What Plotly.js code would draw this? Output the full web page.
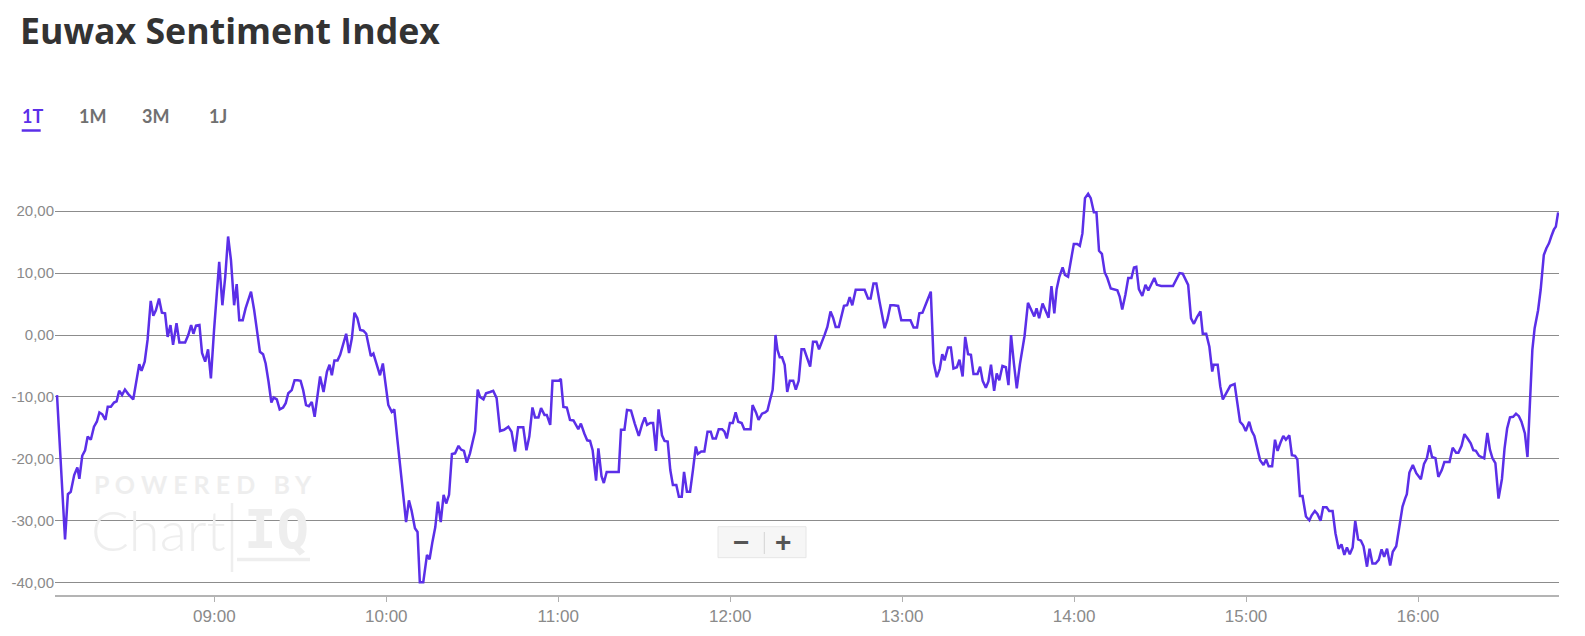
<!DOCTYPE html>
<html>
<head>
<meta charset="utf-8">
<script src="https://cdn.plot.ly/plotly-3.0.1.min.js"></script>
<style>
  html, body { margin: 0; padding: 0; background: #ffffff; }
  #chart { width: 1585px; height: 636px; }
</style>
</head>
<body>
<div id="chart"></div>
<script>
// ---- data ----
const chartTitle = 'Euwax Sentiment Index';
const tabLabels = ['1T', '1M', '3M', '1J'];
const sessionDate = '2024-01-02';

// minutes after 08:00
const minutesAfter0800 = [
  5.1, 7.9, 8.9, 9.9, 11.1, 12.2, 12.9, 13.9, 14.9, 15.8, 16.9, 18.0, 19.0, 19.9, 20.9, 22.0, 22.8, 23.9, 25.0, 25.9,
  26.8, 27.8, 28.8, 29.9, 31.7, 32.9, 33.8, 34.6, 35.7, 36.7, 37.8, 38.7, 39.6, 40.7, 41.7, 42.8, 43.7, 44.7, 45.6, 46.8,
  47.8, 49.8, 50.9, 51.9, 52.7, 53.6, 54.8, 55.7, 56.8, 57.8, 58.8, 59.9, 60.8, 61.7, 62.8, 63.8, 64.8, 65.8, 66.9, 67.8,
  68.7, 69.9, 70.9, 71.9, 72.8, 73.9, 74.9, 75.9, 77.0, 77.9, 78.9, 79.9, 80.7, 81.8, 82.8, 84.0, 84.9, 85.8, 87.0, 88.0,
  89.1, 90.1, 91.0, 92.0, 93.0, 94.0, 95.0, 95.9, 96.9,
  98.1, 99.3, 100.2, 101.0, 101.9, 103.0, 103.9, 104.8, 106.0, 107.0, 108.0, 108.9, 109.9, 110.9, 112.0, 113.0, 113.8, 114.6, 115.5, 116.4,
  117.8, 118.8, 119.8, 120.7, 121.9, 122.8, 123.9, 124.8, 125.9, 126.9, 127.9, 128.8, 130.0, 130.9, 131.7, 132.9, 134.2, 135.1, 136.1, 137.1,
  138.0, 139.0, 140.0, 140.9, 141.9, 142.9, 144.0, 145.2, 146.1, 147.1, 148.1, 149.2, 150.4, 151.0, 151.9, 152.7, 153.9, 154.8, 156.2, 157.3,
  158.5, 159.7, 161.1, 162.6, 163.7, 164.9, 166.0, 167.8, 168.9, 169.9, 171.0, 171.9, 173.1, 174.0, 175.2, 176.0, 177.2, 178.0, 180.1, 180.9,
  181.8, 183.0, 184.1, 185.3, 187.0, 187.9, 189.1, 190.1, 191.1, 192.0, 193.2, 194.0, 195.1, 195.9, 196.9,
  201.1, 201.9, 203.1, 204.0, 205.4, 206.7, 208.1, 209.2, 210.2, 211.0, 212.1, 213.1, 214.1, 215.0, 216.2, 217.1, 218.2, 219.1, 220.0, 221.2,
  222.1, 223.1, 223.9, 224.9, 226.0, 227.0, 228.0, 228.7, 229.9, 231.0, 232.1, 233.2, 233.9, 235.0, 236.0, 237.2, 238.0, 238.8, 239.9, 240.9,
  241.9, 242.8, 244.0, 244.9, 246.0, 247.1, 247.8, 249.0, 249.9, 251.1, 252.2, 253.0, 253.9, 254.8, 255.3, 255.8, 256.5, 257.3, 258.1, 259.0,
  259.9, 260.8, 262.0, 262.9, 263.9, 264.9, 265.8, 266.8, 267.9, 268.9, 270.1, 271.0, 272.1, 273.0, 273.9, 275.0, 275.9, 276.8, 277.9, 278.8,
  279.7, 280.8, 281.7, 282.6, 283.8, 284.9, 286.9, 288.1, 289.0, 290.0, 291.0, 292.1, 293.0, 293.9, 294.8, 295.9, 297.1, 298.6, 299.7,
  302.9, 304.0, 305.2, 306.0, 307.1, 308.7, 310.0, 311.0, 312.1, 313.1, 314.0, 314.8, 316.0, 317.0, 317.9, 319.1, 320.0, 321.1, 322.0, 323.0,
  324.0, 324.9, 326.3, 327.2, 328.1, 329.2, 330.1, 331.0, 332.1, 333.0, 333.9, 335.0, 336.2, 337.1, 338.0, 339.0, 340.0, 341.1, 342.7, 343.9,
  345.2, 346.1, 346.9, 347.8, 349.0, 350.0, 351.1, 352.1, 353.1, 353.9, 354.8, 356.0, 356.8, 357.9, 359.1, 359.9, 361.1, 362.0, 362.9, 363.8,
  364.9, 365.8, 366.9, 367.8, 368.7, 369.7, 370.7, 371.6, 372.8, 373.9, 375.1, 375.9, 376.8, 377.9, 378.9, 380.0, 380.9, 381.7, 382.6, 383.8,
  384.9, 385.9, 387.0, 388.0, 388.9, 390.4, 394.5, 395.6, 396.8, 397.9, 398.9, 399.8, 400.8, 401.8, 402.9, 404.1,
  404.9, 406.1, 407.2, 408.2, 408.7, 410.1, 411.0, 411.9, 413.1, 414.5, 416.0, 416.8, 417.9, 418.9, 419.9, 421.1, 422.0, 422.9, 424.0, 424.9,
  426.1, 427.0, 427.9, 429.1, 430.1, 431.0, 432.0, 433.0, 433.9, 435.1, 436.0, 437.1, 437.9, 438.8, 439.7, 440.9, 442.1, 442.9, 444.0, 444.9,
  446.0, 446.9, 448.1, 449.0, 450.2, 451.2, 452.3, 453.3, 454.3, 455.2, 456.2, 457.2, 458.1, 459.1, 460.1, 461.0, 462.2, 463.1, 464.1, 465.2,
  466.3, 467.3, 468.2, 469.2, 470.3, 471.2, 472.4, 473.6, 474.6, 475.5, 476.1, 477.0, 478.2, 479.4, 481.0, 482.1, 483.1, 484.0, 484.9, 486.1,
  487.1, 488.3, 489.2, 491.0, 492.1, 493.3, 494.1, 495.2, 496.2, 497.3, 498.4, 499.3, 500.2, 501.3, 502.2, 503.1, 504.2, 505.1, 506.0, 507.0,
  508.1, 509.3, 510.2, 511.1, 512.1, 513.2, 514.2, 515.2, 516.1, 517.3, 518.2, 519.0, 519.9, 520.7, 521.9, 522.8, 523.9, 524.8, 525.7, 526.5,
  527.4, 528.1, 528.9
];

const sentiment = [
  -9.7, -33.0, -25.7, -25.3, -22.6, -21.4, -23.2, -19.5, -18.6, -16.4, -16.9, -14.8, -14.0, -12.5, -12.8, -13.7, -11.6, -11.6, -10.9, -10.7,
  -9.0, -9.7, -8.8, -9.5, -10.4, -7.3, -4.7, -5.8, -4.3, -0.8, 5.5, 3.1, 4.0, 5.9, 3.6, 3.5, -0.3, 1.6, -1.6, 1.9,
  -1.2, -1.2, 0.0, 1.6, 0.2, 1.5, 1.6, -2.9, -4.3, -2.3, -7.0, 0.8, 6.2, 11.8, 4.8, 9.4, 15.9, 12.1, 4.8, 8.2,
  2.4, 2.4, 4.3, 5.7, 7.0, 4.0, 0.5, -2.7, -3.1, -4.6, -7.5, -10.9, -10.1, -10.4, -12.0, -11.7, -11.0, -9.4, -8.9, -7.3,
  -7.3, -7.4, -8.9, -11.3, -11.5, -10.8, -13.2, -10.2, -6.7,
  -9.2, -5.9, -4.8, -6.5, -4.1, -4.1, -3.2, -1.8, 0.2, -2.9, -0.5, 3.6, 2.7, 0.8, 0.7, 0.2, -1.9, -3.4, -3.0, -4.3,
  -6.5, -4.6, -7.8, -11.3, -12.4, -12.0, -17.0, -21.3, -26.1, -30.2, -26.7, -28.3, -31.2, -31.8, -39.9, -39.9, -35.5, -36.2, -33.4, -31.0,
  -26.9, -30.2, -25.8, -27.2, -25.8, -19.2, -19.1, -17.9, -18.5, -18.7, -20.6, -19.1, -16.7, -15.5, -8.8, -10.0, -10.4, -9.4, -9.2, -9.0,
  -10.2, -15.5, -15.3, -14.8, -15.6, -18.8, -14.9, -14.9, -18.6, -16.4, -11.7, -13.3, -13.3, -11.8, -12.9, -12.9, -14.5, -7.4, -7.4, -7.1,
  -11.6, -11.7, -13.7, -13.8, -15.2, -14.3, -15.9, -17.0, -17.1, -18.6, -23.5, -18.3, -22.8, -23.9, -22.1,
  -22.1, -15.3, -15.3, -12.1, -12.2, -14.3, -16.3, -14.5, -13.3, -14.5, -14.2, -14.2, -18.7, -12.0, -16.2, -17.1, -17.2, -21.8, -24.2, -24.2,
  -26.1, -26.1, -22.1, -25.3, -25.3, -21.8, -18.0, -19.2, -18.8, -18.8, -15.6, -15.6, -16.7, -16.7, -15.2, -15.2, -15.6, -16.7, -14.2, -14.2,
  -12.5, -14.0, -14.2, -15.2, -15.2, -15.2, -11.3, -12.5, -13.7, -12.7, -12.5, -12.2, -10.5, -8.9, -5.7, 0.0, -2.4, -3.6, -3.6, -4.8,
  -9.2, -7.4, -7.4, -8.8, -7.4, -2.3, -2.3, -3.8, -5.1, -1.1, -1.1, -2.3, -1.1, 0.1, 1.3, 3.8, 2.8, 1.3, 1.3, 3.2,
  4.7, 4.8, 6.1, 4.8, 7.3, 7.3, 7.3, 5.9, 5.9, 8.3, 8.3, 5.4, 3.1, 1.1, 2.4, 4.8, 4.8, 4.7, 2.4,
  2.4, 1.2, 1.2, 3.5, 3.6, 5.5, 7.0, -4.5, -6.8, -5.5, -3.1, -4.1, -2.0, -2.0, -5.4, -5.2, -4.0, -6.7, -0.3, -3.1,
  -3.2, -6.3, -6.3, -5.1, -7.4, -8.5, -7.5, -4.8, -9.0, -6.2, -7.3, -5.0, -5.2, -8.1, 0.0, -4.6, -8.6, -4.7, -0.2, 5.2,
  4.0, 3.0, 4.3, 2.7, 5.1, 4.0, 2.8, 7.9, 3.5, 7.4, 9.3, 10.9, 9.7, 9.4, 12.8, 14.7, 14.7, 14.4, 16.4, 22.1,
  22.8, 22.1, 19.8, 19.8, 13.6, 13.1, 10.1, 9.2, 7.5, 7.4, 7.2, 6.2, 4.1, 6.5, 9.2, 9.2, 10.9, 11.0, 7.4, 6.3,
  8.1, 7.2, 8.3, 9.2, 8.1, 7.9, 7.9, 8.9, 10.0, 9.9, 8.9, 8.1, 2.7, 1.8, 2.9, 3.8,
  0.2, 0.2, -1.9, -5.9, -4.8, -4.8, -8.3, -10.4, -9.4, -8.2, -7.9, -10.5, -14.0, -14.5, -15.5, -14.0, -15.5, -16.3, -18.5, -20.2,
  -21.0, -20.1, -21.2, -21.2, -16.9, -18.7, -17.4, -16.3, -16.9, -16.2, -19.4, -19.5, -20.1, -26.0, -26.0, -29.3, -29.9, -29.1, -28.4, -28.9,
  -30.0, -27.8, -27.8, -28.4, -28.4, -32.0, -34.5, -33.8, -35.5, -34.3, -35.4, -34.3, -30.0, -33.0, -33.2, -34.1, -37.4, -34.5, -36.9, -36.9,
  -36.3, -34.6, -35.8, -34.5, -37.2, -35.0, -34.1, -30.4, -27.7, -26.4, -25.7, -22.2, -21.0, -22.3, -23.3, -20.8, -19.9, -17.8, -19.7, -19.9,
  -22.9, -21.8, -20.5, -20.5, -18.2, -19.0, -19.0, -17.9, -16.0, -16.7, -17.5, -18.6, -18.7, -19.5, -19.7, -19.9, -15.8, -18.5, -19.9, -20.7,
  -26.4, -23.2, -18.3, -15.1, -13.3, -13.2, -12.7, -13.1, -14.0, -15.9, -19.7, -11.0, -2.4, 1.1, 4.0, 7.3, 12.9, 14.0, 14.8, 15.9,
  17.0, 17.5, 19.8
];

const yTickValues = [-40, -30, -20, -10, 0, 10, 20];
const yTickLabels = ['-40,00', '-30,00', '-20,00', '-10,00', '0,00', '10,00', '20,00'];
const xRangeMinutes = [4.4, 529.2];

// ---- helpers ----
function pad(n) { return (n < 10 ? '0' : '') + n; }
function minutesToStamp(m) {
  const totalSec = Math.round(m * 60) + 8 * 3600;
  const h = Math.floor(totalSec / 3600);
  const mi = Math.floor((totalSec % 3600) / 60);
  const s = totalSec % 60;
  return sessionDate + ' ' + pad(h) + ':' + pad(mi) + ':' + pad(s);
}
const times = minutesAfter0800.map(minutesToStamp);

// layout geometry (pixels)
const W = 1585, H = 636;
const M = { l: 55, r: 26, t: 174, b: 41 };
const PW = W - M.l - M.r, PH = H - M.t - M.b;
const px = x => (x - M.l) / PW;           // page x -> paper x
const py = y => (H - M.b - y) / PH;       // page y -> paper y

const purple = '#5b2fe8';
const wmColor = '#eeeeee';

const tabX = [21, 78, 140.5, 207.5];
const annotations = tabLabels.map((lab, i) => ({
  text: lab, xref: 'paper', yref: 'paper', x: px(tabX[i]), y: py(116),
  xanchor: 'left', yanchor: 'middle', showarrow: false, borderpad: 0,
  font: { family: 'Lato, sans-serif', size: 18, weight: 700, color: i === 0 ? purple : '#707070' }
}));

// watermark
annotations.push({
  text: 'P O W E R E D   B Y', xref: 'paper', yref: 'paper', x: px(203), y: py(484),
  xanchor: 'center', yanchor: 'middle', showarrow: false, borderpad: 0,
  font: { family: 'Lato, sans-serif', size: 25, weight: 700, color: wmColor }
});
annotations.push({
  text: 'Chart', xref: 'paper', yref: 'paper', x: px(90), y: py(529),
  xanchor: 'left', yanchor: 'middle', showarrow: false, borderpad: 0,
  font: { family: 'Lato, sans-serif', size: 56, weight: 300, color: wmColor }
});
annotations.push({
  text: 'IQ', xref: 'paper', yref: 'paper', x: px(243), y: py(529),
  xanchor: 'left', yanchor: 'middle', showarrow: false, borderpad: 0,
  font: { family: 'DejaVu Sans Mono, monospace', size: 54, weight: 700, color: wmColor }
});

// zoom buttons
annotations.push({
  text: '\u2212', xref: 'paper', yref: 'paper', x: px(741), y: py(542.5),
  xanchor: 'center', yanchor: 'middle', showarrow: false, borderpad: 0,
  font: { family: 'Liberation Sans, Arial, sans-serif', size: 28, weight: 700, color: '#555555' }
});
annotations.push({
  text: '+', xref: 'paper', yref: 'paper', x: px(783.3), y: py(542.5),
  xanchor: 'center', yanchor: 'middle', showarrow: false, borderpad: 0,
  font: { family: 'Liberation Sans, Arial, sans-serif', size: 28, weight: 700, color: '#555555' }
});

const shapes = [
  // active tab underline
  { type: 'line', xref: 'paper', yref: 'paper', x0: px(21.7), x1: px(40.7), y0: py(130.5), y1: py(130.5),
    line: { color: purple, width: 2.5 } },
  // watermark bars
  { type: 'line', xref: 'paper', yref: 'paper', x0: px(232), x1: px(232), y0: py(503), y1: py(572),
    line: { color: wmColor, width: 2.5 }, layer: 'below' },
  { type: 'line', xref: 'paper', yref: 'paper', x0: px(237), x1: px(310), y0: py(559.5), y1: py(559.5),
    line: { color: wmColor, width: 3.5 }, layer: 'below' },
  // zoom button box
  { type: 'rect', xref: 'paper', yref: 'paper', x0: px(718), x1: px(806), y0: py(557.7), y1: py(526.7),
    fillcolor: '#f6f6f6', line: { color: '#e6e6e6', width: 1 } },
  { type: 'line', xref: 'paper', yref: 'paper', x0: px(764.3), x1: px(764.3), y0: py(532), y1: py(554),
    line: { color: '#d4d4d4', width: 1 } }
];

const trace = {
  type: 'scatter', mode: 'lines', x: times, y: sentiment,
  line: { color: purple, width: 2.5 }, hoverinfo: 'skip'
};

const layout = {
  width: W, height: H,
  margin: M,
  paper_bgcolor: '#ffffff', plot_bgcolor: '#ffffff',
  showlegend: false,
  title: {
    text: chartTitle, x: 20 / W, xanchor: 'left', xref: 'container',
    y: 1 - 32 / H, yanchor: 'middle', yref: 'container',
    font: { family: 'Open Sans, sans-serif', size: 35.7, weight: 700, color: '#333333' }
  },
  xaxis: {
    type: 'date',
    range: xRangeMinutes.map(minutesToStamp),
    tickformat: '%H:%M', dtick: 3600000, tick0: sessionDate + ' 09:00:00',
    showgrid: false, zeroline: false,
    showline: true, linecolor: '#b4b4b4', linewidth: 2,
    ticks: 'outside', ticklen: 5, tickcolor: '#b0b0b0', tickwidth: 1,
    tickfont: { family: 'Liberation Sans Narrow, Arial Narrow, sans-serif', size: 17, color: '#8a8a8a' },
    fixedrange: true
  },
  yaxis: {
    range: [-41.97, 25.99],
    tickvals: yTickValues, ticktext: yTickLabels,
    showgrid: true, gridcolor: '#8c8c8c', gridwidth: 1,
    zeroline: false, showline: false, ticks: '',
    tickfont: { family: 'Liberation Sans Narrow, Arial Narrow, sans-serif', size: 15, color: '#8a8a8a' },
    fixedrange: true
  },
  annotations: annotations,
  shapes: shapes
};

Plotly.newPlot('chart', [trace], layout, { displayModeBar: false, staticPlot: true });
</script>
</body>
</html>
